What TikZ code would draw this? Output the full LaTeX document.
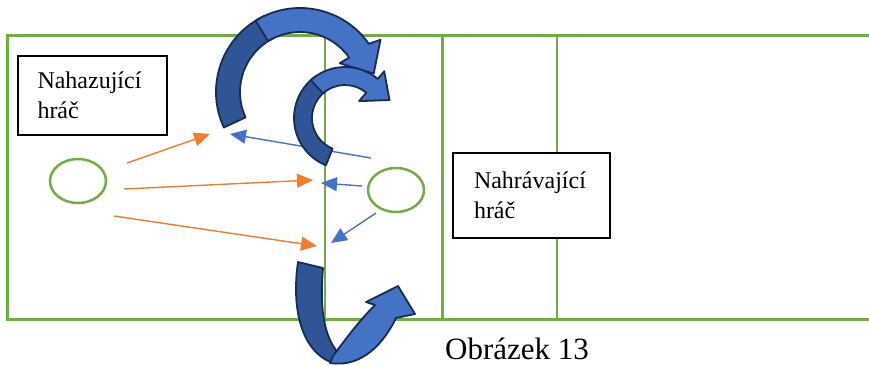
\documentclass[tikz,border=0pt]{standalone}
\usepackage{fontspec}
\setmainfont{Liberation Serif}
\usetikzlibrary{shapes.geometric, arrows.meta, calc}
\definecolor{courtgreen}{RGB}{112,173,71}
\definecolor{passorange}{RGB}{237,125,49}
\definecolor{passblue}{RGB}{68,114,196}
\definecolor{bigblue}{RGB}{68,114,196}
\definecolor{bigdark}{RGB}{47,85,151}
\definecolor{bigline}{RGB}{24,44,82}

\begin{document}
\begin{tikzpicture}[x=1pt, y=-1pt,
  court/.style={draw=courtgreen, line width=3pt},
  midline/.style={draw=courtgreen, line width=1.5pt},
  player/.style={draw=courtgreen, line width=2.5pt, ellipse, minimum width=56pt, minimum height=44pt, inner sep=0pt},
  namebox/.style={draw, line width=1.6pt, fill=white, align=left, font=\fontsize{24}{30}\selectfont},
  pass/.style={-{Triangle[length=16pt, width=14pt]}, line width=1.4pt},
  bigarrow/.style={draw=bigline, line width=1.8pt, line join=round}]
\useasboundingbox (0,0) rectangle (869,365);

% Courts
\draw[court] (7,35) rectangle (442,319);
\draw[court] (872,35) -- (442,35) -- (442,319) -- (872,319);
\draw[midline] (325,35) -- (325,322);
\draw[midline] (557,35) -- (557,321);

% Players
\node[player] (thrower) at (78,181) {};
\node[player] (passer) at (396,190) {};
\node[namebox, text width=110pt, inner xsep=19.5pt, minimum height=79pt] (throwerbox) at (92.5,95.5) {Nahazující\\hráč};
\node[namebox, text width=115pt, inner xsep=21pt, minimum height=85pt] (passerbox) at (531.5,195.5) {Nahrávající\\hráč};

% Passes of the thrower
\coordinate (o1) at (127,163);
\coordinate (o2) at (124,189);
\coordinate (o3) at (114,216);
\coordinate (t1) at (210,134);
\coordinate (t2) at (313,180);
\coordinate (t3) at (317,246);
\draw[pass, passorange] (o1) -- (t1);
\draw[pass, passorange] (o2) -- (t2);
\draw[pass, passorange] (o3) -- (t3);

% Passes of the setter
\coordinate (b1) at (371,158);
\coordinate (b2) at (362,186);
\coordinate (b3) at (376,213);
\coordinate (u1) at (230,134);
\coordinate (u2) at (321,183);
\coordinate (u3) at (331,243);
\draw[pass, passblue] (b1) -- (u1);
\draw[pass, passblue] (b2) -- (u2);
\draw[pass, passblue] (b3) -- (u3);

% Big upper arrow
\coordinate (c1) at (300,92);
\filldraw[bigarrow, fill=bigdark] ($(c1)+(155:84)$) arc[start angle=155, end angle=245, radius=84]
  -- ($(c1)+(245:60)$) arc[start angle=245, end angle=155, radius=60] -- cycle;
\filldraw[bigarrow, fill=bigblue] ($(c1)+(238:84)$) arc[start angle=238, end angle=325, radius=84]
  -- ($(c1)+(327:96)$) -- ($(c1)+(346:76)$) -- ($(c1)+(324:49)$)
  -- ($(c1)+(325:60)$) arc[start angle=325, end angle=238, radius=60] -- cycle;

% Small upper arrow
\coordinate (c2) at (345,118);
\filldraw[bigarrow, fill=bigdark] ($(c2)+(112:51)$) arc[start angle=112, end angle=235, radius=51]
  -- ($(c2)+(235:33)$) arc[start angle=235, end angle=112, radius=33] -- cycle;
\filldraw[bigarrow, fill=bigblue] ($(c2)+(228:51)$) arc[start angle=228, end angle=310, radius=51]
  -- ($(c2)+(310:61)$) -- ($(c2)+(338:48)$) -- ($(c2)+(310:22)$)
  -- ($(c2)+(310:33)$) arc[start angle=310, end angle=228, radius=33] -- cycle;

% Lower arrow
\filldraw[bigarrow, fill=bigdark] (298,262) -- (323,268) .. controls (320,305) and (322,338) .. (342,357)
  -- (333,363) .. controls (302,352) and (291,310) .. (298,262) -- cycle;
\filldraw[bigarrow, fill=bigblue] (330,363) .. controls (362,368) and (384,343) .. (396,318)
  -- (415,314) -- (398,286) -- (366,302) -- (375,305) .. controls (358,322) and (345,340) .. (333,356) -- cycle;

% Caption
\node[anchor=base, font=\fontsize{31}{36}\selectfont] (caption) at (517,359) {Obrázek 13};
\end{tikzpicture}
\end{document}
